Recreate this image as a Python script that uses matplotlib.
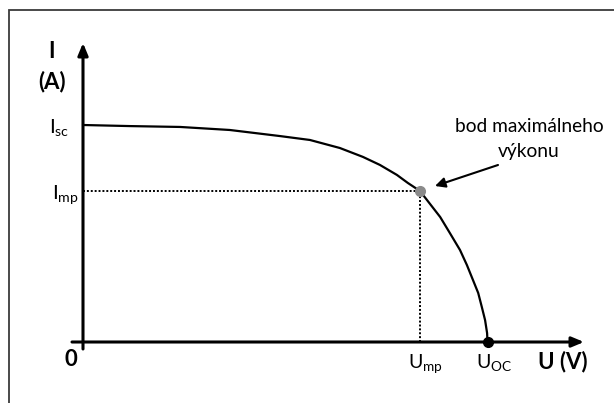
import matplotlib
matplotlib.use("Agg")
import matplotlib.pyplot as plt
from matplotlib.patches import Rectangle

plt.rcParams["font.family"] = ["Lato", "DejaVu Sans"]
plt.rcParams["mathtext.fontset"] = "custom"
plt.rcParams["mathtext.rm"] = "Lato"

# I-V curve of a solar cell, normalised (U / U_oc, I / I_sc)
u_curve = [0.0, 0.116, 0.240, 0.363, 0.487, 0.561, 0.635, 0.692, 0.734, 0.776,
           0.803, 0.833, 0.858, 0.883, 0.907, 0.932, 0.949, 0.964, 0.977, 0.986,
           0.994, 0.999, 1.0]
i_curve = [1.0, 0.995, 0.991, 0.977, 0.949, 0.931, 0.894, 0.853, 0.816, 0.770,
           0.733, 0.696, 0.636, 0.576, 0.502, 0.424, 0.355, 0.286, 0.226, 0.161,
           0.101, 0.041, 0.0]

u_mp, i_mp = 0.833, 0.696
u_oc, i_sc = 1.0, 1.0

W, H = 614, 403
X0, Y0 = 83, 342          # pixel position of the origin
SX, SY = 404.5, 217.0     # pixels per unit


def px(x, y):
    """pixel (from top-left) -> data coords"""
    return (x - X0) / SX, (Y0 - y) / SY


fig = plt.figure(figsize=(W / 100, H / 100), dpi=100)
ax = fig.add_axes([0, 0, 1, 1])
ax.set_xlim(-X0 / SX, (W - X0) / SX)
ax.set_ylim(-(H - Y0) / SY, Y0 / SY)
ax.axis("off")

# frame around the picture (cropped on the right and bottom)
fig.add_artist(Rectangle((9 / W, -0.1), 1.2, (H - 10) / H + 0.1,
                         transform=fig.transFigure, fill=False,
                         edgecolor="#3a3a3a", linewidth=1.3))

# axes with arrows
arrow = dict(arrowstyle="-|>,head_length=0.6,head_width=0.25", color="black",
             lw=2.2, shrinkA=0, shrinkB=0, mutation_scale=12)
ax.annotate("", xy=px(584, Y0), xytext=px(72, Y0), arrowprops=arrow)
ax.annotate("", xy=px(X0, 43), xytext=px(X0, 349), arrowprops=arrow)

# dotted guides to the maximum power point
ax.plot([0, u_mp], [i_mp, i_mp], color="black", lw=1.4, ls=(0, (1, 1)))
ax.plot([u_mp, u_mp], [0, i_mp], color="black", lw=1.4, ls=(0, (1, 1)))

# curve
ax.plot(u_curve, i_curve, color="black", lw=1.6, solid_capstyle="round",
        solid_joinstyle="round")
ax.plot([u_mp], [i_mp], "o", color="#8a8a8a", ms=7, zorder=5)
ax.plot([u_oc], [0], "o", color="black", ms=7, zorder=5)

# annotation
ax.annotate("", xy=px(435, 186), xytext=px(498, 165),
            arrowprops=dict(arrowstyle="-|>,head_length=0.6,head_width=0.3",
                            color="black", lw=1.5, shrinkA=0, shrinkB=0,
                            mutation_scale=10))
ax.text(*px(529, 126), "bod maximálneho", ha="center", va="center", fontsize=13.8)
ax.text(*px(529, 152), "výkonu", ha="center", va="center", fontsize=13.8)

# axis labels
ax.text(*px(51, 51), "I", ha="center", va="center", fontsize=16, fontweight="bold")
ax.text(*px(52, 82), "(A)", ha="center", va="center", fontsize=16, fontweight="bold")
ax.text(*px(563, 362), "U (V)", ha="center", va="center", fontsize=16, fontweight="bold")
ax.text(*px(71, 360), "0", ha="center", va="center", fontsize=16, fontweight="bold")

# tick labels
ax.text(*px(69, 128), r"I$_\mathregular{sc}$", ha="right", va="center", fontsize=14.5)
ax.text(*px(79, 195), r"I$_\mathregular{mp}$", ha="right", va="center", fontsize=14.5)
ax.text(*px(425, 364), r"U$_\mathregular{mp}$", ha="center", va="center", fontsize=14)
ax.text(*px(494, 363), r"U$_\mathregular{OC}$", ha="center", va="center", fontsize=14)

fig.savefig("out.png", dpi=100)
